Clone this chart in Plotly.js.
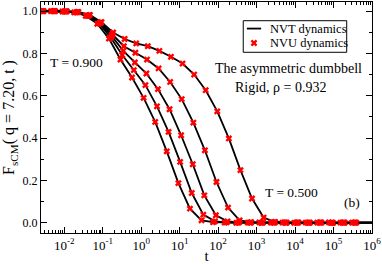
<!DOCTYPE html>
<html><head><meta charset="utf-8">
<script src="https://cdn.plot.ly/plotly-3.0.1.min.js"></script>
<style>html,body{margin:0;padding:0;background:#fff;}</style>
</head><body><div id="chart" style="width:382px;height:264px;"></div>
<script>
// Times (t) of each run
var t_T0900 = [0.00226,0.00451,0.00902,0.0180,0.0361,0.0722,0.145,0.289,0.577,1.155,2.31,4.62,9.26,18.5,37.0,73.9,148,296,591,1183,2365,4730,9490,18900,37800,75700,152000,303000,1500000];
var t_run2  = [0.00251,0.00503,0.0101,0.0201,0.0402,0.0805,0.161,0.322,0.643,1.287,2.575,5.15,10.3,20.6,41.2,82.4,165,329,659,1318,2636,5271,10600,21100,42100,84400,169000,337000,1500000];
var t_run3  = [0.00267,0.00534,0.0107,0.0213,0.0427,0.0854,0.171,0.341,0.683,1.366,2.73,5.46,10.9,21.9,43.7,87.4,175,350,699,1398,2797,5594,11200,22400,44700,89500,179000,358000,1500000];
var t_run4  = [0.00276,0.00553,0.0111,0.0221,0.0442,0.0884,0.177,0.354,0.707,1.415,2.83,5.66,11.3,22.7,45.3,90.5,181,362,724,1449,2897,5794,11600,23200,46300,92700,186000,371000,1500000];
var t_T0500 = [0.0029,0.0058,0.0116,0.0232,0.0464,0.0928,0.186,0.371,0.742,1.485,2.97,5.94,11.9,23.8,47.5,95,190,380,760,1520,3040,6080,12200,24300,48600,97300,195000,389000,1500000];

// F_sCM(q=7.20,t) values
var F_T0900 = [1.000,1.000,0.998,0.994,0.978,0.940,0.870,0.771,0.686,0.590,0.476,0.337,0.187,0.066,0.011,0.002,0.000,-0.001,0.000,0.001,0.000,0.000,-0.001,0.000,0.000,0.001,0.000,0.000,0.000];
var F_run2  = [1.000,1.000,0.998,0.994,0.978,0.942,0.875,0.792,0.721,0.650,0.550,0.429,0.287,0.140,0.038,0.006,0.001,0.000,0.000,-0.001,0.000,0.001,0.000,0.000,0.000,-0.001,0.000,0.000,0.000];
var F_run3  = [1.000,1.000,0.999,0.995,0.979,0.944,0.882,0.812,0.757,0.705,0.631,0.536,0.413,0.276,0.129,0.035,0.006,0.001,0.000,0.000,0.001,0.000,0.000,-0.001,0.000,0.000,0.000,0.000,0.000];
var F_run4  = [1.000,1.000,0.999,0.995,0.980,0.946,0.890,0.834,0.803,0.771,0.729,0.665,0.584,0.473,0.342,0.192,0.071,0.011,0.002,0.000,0.000,-0.001,0.000,0.000,0.001,0.000,0.000,0.000,0.000];
var F_T0500 = [1.000,1.000,0.999,0.996,0.982,0.948,0.899,0.868,0.847,0.834,0.812,0.784,0.752,0.700,0.626,0.526,0.398,0.248,0.114,0.024,0.003,0.000,0.001,0.000,0.000,-0.001,0.000,0.000,0.000];

var xTickVals = [0.01,0.1,1,10,100,1000,10000,100000,1000000];
var xTickText = ["10<sup>-2</sup>","10<sup>-1</sup>","10<sup>0</sup>","10<sup>1</sup>","10<sup>2</sup>","10<sup>3</sup>","10<sup>4</sup>","10<sup>5</sup>","10<sup>6</sup>"];
var seriesNames = ["NVT dynamics","NVU dynamics"];
var labelHighT = "T = 0.900", labelLowT = "T = 0.500";
var labelSystem = "The asymmetric dumbbell", labelState = "Rigid, \u03c1 = 0.932", labelPanel = "(b)";

var times = [t_T0900,t_run2,t_run3,t_run4,t_T0500];
var vals = [F_T0900,F_run2,F_run3,F_run4,F_T0500];

var minorX = [];
for (var d = -3; d <= 5; d++) for (var m = 2; m <= 9; m++) minorX.push(m*Math.pow(10,d));

var FONT = 'Liberation Serif, Times New Roman, serif';
var traces = [];
for (var i = 0; i < 5; i++) {
  traces.push({x: times[i], y: vals[i], mode:'lines', type:'scatter',
    line:{color:'black', width:1.8}, showlegend:false, hoverinfo:'skip'});
}
for (var i = 0; i < 5; i++) {
  var mx = [], my = [];
  for (var j = 0; j < times[i].length; j++) if (times[i][j] < 1e6) { mx.push(times[i][j]); my.push(vals[i][j]); }
  traces.push({x: mx, y: my, mode:'markers', type:'scatter',
    marker:{symbol:'x', size:6, color:'#ff0000', line:{width:0}}, showlegend:false, hoverinfo:'skip'});
}
// legend samples on an overlay axis pair spanning the plot area
traces.push({x:[0.622,0.665], y:[0.885,0.885], xaxis:'x2', yaxis:'y2', mode:'lines',
  line:{color:'black', width:1.8}, showlegend:false, hoverinfo:'skip'});
traces.push({x:[0.6435], y:[0.8225], xaxis:'x2', yaxis:'y2', mode:'markers',
  marker:{symbol:'x', size:6, color:'#ff0000', line:{width:0}}, showlegend:false, hoverinfo:'skip'});

var axisCommon = {showline:true, linecolor:'black', linewidth:1, mirror:'ticks', ticks:'inside',
  tickwidth:1, tickcolor:'black', showgrid:false, zeroline:false};

var layout = {
  width:382, height:264,
  margin:{l:41, r:10, t:2, b:31, pad:0},
  paper_bgcolor:'white', plot_bgcolor:'white',
  font:{family:FONT, color:'black', size:12},
  showlegend:false,
  xaxis: Object.assign({}, axisCommon, {
    type:'log', range:[-2.605, 6], ticklen:6,
    tickmode:'array', tickvals:xTickVals, ticktext:xTickText,
    tickfont:{family:FONT, size:13, color:'black'},
    minor:{ticks:'inside', ticklen:3, tickwidth:1, tickcolor:'black', tickmode:'array', tickvals:minorX, showgrid:false},
    title:{text:'t', font:{family:FONT, size:15, color:'black'}, standoff:0}
  }),
  yaxis: Object.assign({}, axisCommon, {
    range:[-0.049, 1.043], tick0:0, dtick:0.2, tickformat:'.1f', ticklen:6,
    tickfont:{family:FONT, size:12, color:'black'},
    minor:{ticks:'inside', ticklen:3, tickwidth:1, tickcolor:'black', dtick:0.1, tick0:0, showgrid:false},
    title:{text:'F<sub>sCM</sub>( q = 7.20, t )', font:{family:FONT, size:16, color:'black'}, standoff:3}
  }),
  xaxis2:{overlaying:'x', range:[0,1], visible:false, fixedrange:true},
  yaxis2:{overlaying:'y', range:[0,1], visible:false, fixedrange:true},
  shapes:[{type:'rect', xref:'paper', yref:'paper', x0:0.611, x1:0.9236, y0:0.7823, y1:0.919,
    line:{color:'black', width:1}, fillcolor:'white', layer:'below'}],
  annotations:[
    {text:seriesNames[0], xref:'paper', yref:'paper', x:0.686, y:0.885, xanchor:'left', yanchor:'middle', showarrow:false, font:{size:12.5}},
    {text:seriesNames[1], xref:'paper', yref:'paper', x:0.686, y:0.8225, xanchor:'left', yanchor:'middle', showarrow:false, font:{size:12.5}},
    {text:labelHighT, xref:'paper', yref:'paper', x:0.108, y:0.740, xanchor:'center', yanchor:'middle', showarrow:false, font:{size:13.5}},
    {text:labelSystem, xref:'paper', yref:'paper', x:0.749, y:0.710, xanchor:'center', yanchor:'middle', showarrow:false, font:{size:14}},
    {text:labelState, xref:'paper', yref:'paper', x:0.724, y:0.628, xanchor:'center', yanchor:'middle', showarrow:false, font:{size:14}},
    {text:labelLowT, xref:'paper', yref:'paper', x:0.758, y:0.177, xanchor:'center', yanchor:'middle', showarrow:false, font:{size:13.5}},
    {text:labelPanel, xref:'paper', yref:'paper', x:0.9396, y:0.130, xanchor:'center', yanchor:'middle', showarrow:false, font:{size:13.5}}
  ]
};
Plotly.newPlot('chart', traces, layout, {displayModeBar:false, staticPlot:true});
</script></body></html>
